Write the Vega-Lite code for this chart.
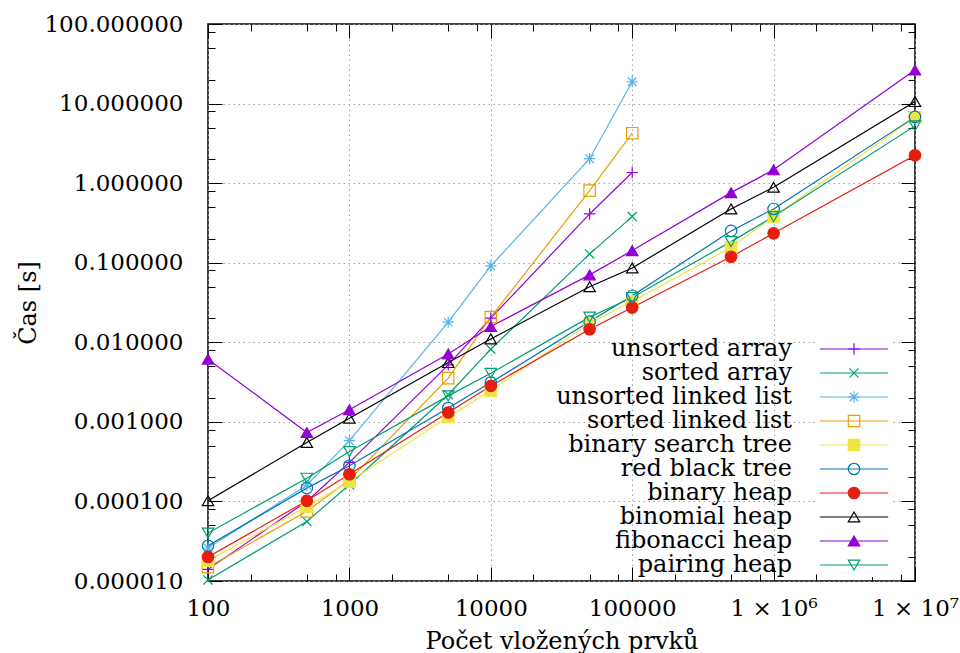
{
  "$schema": "https://vega.github.io/schema/vega-lite/v6.json",
  "width": 707,
  "height": 557,
  "autosize": {"type": "none"},
  "padding": {"left": 208, "top": 24, "right": 45, "bottom": 72},
  "background": "white",
  "config": {
    "view": {"stroke": "black", "strokeWidth": 1.5},
    "font": "DejaVu Serif",
    "axis": {"labelColor": "black", "titleColor": "black", "tickColor": "black", "labelFont": "DejaVu Serif", "titleFont": "DejaVu Serif"}
  },
  "datasets": {
    "times": [
      {"s": "unsorted array", "n": 100, "t": 0.000014},
      {"s": "unsorted array", "n": 500, "t": 0.0001},
      {"s": "unsorted array", "n": 1000, "t": 0.00031},
      {"s": "unsorted array", "n": 5000, "t": 0.0052},
      {"s": "unsorted array", "n": 10000, "t": 0.0201},
      {"s": "unsorted array", "n": 50000, "t": 0.41},
      {"s": "unsorted array", "n": 100000, "t": 1.36},
      {"s": "sorted array", "n": 100, "t": 0.0000103},
      {"s": "sorted array", "n": 500, "t": 0.000056},
      {"s": "sorted array", "n": 1000, "t": 0.000162},
      {"s": "sorted array", "n": 5000, "t": 0.00219},
      {"s": "sorted array", "n": 10000, "t": 0.0082},
      {"s": "sorted array", "n": 50000, "t": 0.129},
      {"s": "sorted array", "n": 100000, "t": 0.38},
      {"s": "unsorted linked list", "n": 100, "t": 0.000026},
      {"s": "unsorted linked list", "n": 500, "t": 0.00016},
      {"s": "unsorted linked list", "n": 1000, "t": 0.00058},
      {"s": "unsorted linked list", "n": 5000, "t": 0.0179},
      {"s": "unsorted linked list", "n": 10000, "t": 0.091},
      {"s": "unsorted linked list", "n": 50000, "t": 2.03},
      {"s": "unsorted linked list", "n": 100000, "t": 18.8},
      {"s": "sorted linked list", "n": 100, "t": 0.0000149},
      {"s": "sorted linked list", "n": 500, "t": 0.000075},
      {"s": "sorted linked list", "n": 1000, "t": 0.000187},
      {"s": "sorted linked list", "n": 5000, "t": 0.00354},
      {"s": "sorted linked list", "n": 10000, "t": 0.0207},
      {"s": "sorted linked list", "n": 50000, "t": 0.805},
      {"s": "sorted linked list", "n": 100000, "t": 4.24},
      {"s": "binary search tree", "n": 100, "t": 0.000018},
      {"s": "binary search tree", "n": 500, "t": 0.000086},
      {"s": "binary search tree", "n": 1000, "t": 0.000178},
      {"s": "binary search tree", "n": 5000, "t": 0.00115},
      {"s": "binary search tree", "n": 10000, "t": 0.00247},
      {"s": "binary search tree", "n": 50000, "t": 0.0174},
      {"s": "binary search tree", "n": 100000, "t": 0.0325},
      {"s": "binary search tree", "n": 500000, "t": 0.155},
      {"s": "binary search tree", "n": 1000000, "t": 0.38},
      {"s": "binary search tree", "n": 10000000, "t": 6.7},
      {"s": "red black tree", "n": 100, "t": 0.0000277},
      {"s": "red black tree", "n": 500, "t": 0.000147},
      {"s": "red black tree", "n": 1000, "t": 0.00028},
      {"s": "red black tree", "n": 5000, "t": 0.00149},
      {"s": "red black tree", "n": 10000, "t": 0.00312},
      {"s": "red black tree", "n": 50000, "t": 0.0182},
      {"s": "red black tree", "n": 100000, "t": 0.0385},
      {"s": "red black tree", "n": 500000, "t": 0.251},
      {"s": "red black tree", "n": 1000000, "t": 0.474},
      {"s": "red black tree", "n": 10000000, "t": 6.8},
      {"s": "binary heap", "n": 100, "t": 0.00002},
      {"s": "binary heap", "n": 500, "t": 0.000102},
      {"s": "binary heap", "n": 1000, "t": 0.00022},
      {"s": "binary heap", "n": 5000, "t": 0.00131},
      {"s": "binary heap", "n": 10000, "t": 0.00283},
      {"s": "binary heap", "n": 50000, "t": 0.0146},
      {"s": "binary heap", "n": 100000, "t": 0.0273},
      {"s": "binary heap", "n": 500000, "t": 0.119},
      {"s": "binary heap", "n": 1000000, "t": 0.234},
      {"s": "binary heap", "n": 10000000, "t": 2.24},
      {"s": "binomial heap", "n": 100, "t": 0.000102},
      {"s": "binomial heap", "n": 500, "t": 0.00055},
      {"s": "binomial heap", "n": 1000, "t": 0.00111},
      {"s": "binomial heap", "n": 5000, "t": 0.00556},
      {"s": "binomial heap", "n": 10000, "t": 0.011},
      {"s": "binomial heap", "n": 50000, "t": 0.05},
      {"s": "binomial heap", "n": 100000, "t": 0.086},
      {"s": "binomial heap", "n": 500000, "t": 0.474},
      {"s": "binomial heap", "n": 1000000, "t": 0.887},
      {"s": "binomial heap", "n": 10000000, "t": 10.6},
      {"s": "fibonacci heap", "n": 100, "t": 0.00614},
      {"s": "fibonacci heap", "n": 500, "t": 0.000734},
      {"s": "fibonacci heap", "n": 1000, "t": 0.00142},
      {"s": "fibonacci heap", "n": 5000, "t": 0.00714},
      {"s": "fibonacci heap", "n": 10000, "t": 0.0158},
      {"s": "fibonacci heap", "n": 50000, "t": 0.0703},
      {"s": "fibonacci heap", "n": 100000, "t": 0.142},
      {"s": "fibonacci heap", "n": 500000, "t": 0.76},
      {"s": "fibonacci heap", "n": 1000000, "t": 1.47},
      {"s": "fibonacci heap", "n": 10000000, "t": 26.4},
      {"s": "pairing heap", "n": 100, "t": 0.00004},
      {"s": "pairing heap", "n": 500, "t": 0.000196},
      {"s": "pairing heap", "n": 1000, "t": 0.000424},
      {"s": "pairing heap", "n": 5000, "t": 0.00212},
      {"s": "pairing heap", "n": 10000, "t": 0.00408},
      {"s": "pairing heap", "n": 50000, "t": 0.0207},
      {"s": "pairing heap", "n": 100000, "t": 0.0365},
      {"s": "pairing heap", "n": 500000, "t": 0.184},
      {"s": "pairing heap", "n": 1000000, "t": 0.38},
      {"s": "pairing heap", "n": 10000000, "t": 5.24}
    ]
  },
  "data": {"name": "times"},
  "layer": [
    {
      "mark": {"type": "line", "strokeWidth": 1.2, "clip": true},
      "encoding": {
        "x": {"field": "n", "type": "quantitative",
          "scale": {"type": "log", "domain": [100, 10000000], "nice": false},
          "axis": {"orient": "bottom", "values": [100, 1000, 10000, 100000, 1000000, 10000000],
            "labelExpr": "datum.value == 1000000 ? '1 × 10⁶' : datum.value == 10000000 ? '1 × 10⁷' : format(datum.value, 'd')",
            "ticks": false, "domain": false, "grid": true, "gridDash": [1.5, 3.5], "gridColor": "#a0a0a0", "gridWidth": 1,
            "labelFontSize": 23, "labelPadding": 16, "labelFlush": false, "labelOverlap": false,
            "title": "Počet vložených prvků", "titleFontSize": 24, "titleFontWeight": "normal", "titlePadding": 9}},
        "y": {"field": "t", "type": "quantitative",
          "scale": {"type": "log", "domain": [0.00001, 100], "nice": false},
          "axis": {"orient": "left", "values": [0.00001, 0.0001, 0.001, 0.01, 0.1, 1, 10, 100], "format": ".6f",
            "ticks": false, "domain": false, "grid": true, "gridDash": [1.5, 3.5], "gridColor": "#a0a0a0", "gridWidth": 1,
            "labelFontSize": 23, "labelPadding": 25, "labelOverlap": false,
            "title": "Čas [s]", "titleFontSize": 24, "titleFontWeight": "normal", "titlePadding": 3}},
        "color": {"field": "s", "type": "nominal",
          "scale": {"domain": ["unsorted array", "sorted array", "unsorted linked list", "sorted linked list", "binary search tree", "red black tree", "binary heap", "binomial heap", "fibonacci heap", "pairing heap"],
            "range": ["#9400d3", "#009e73", "#56b4e9", "#e69f00", "#f0e442", "#0072b2", "#e51e10", "#000000", "#9400d3", "#009e73"]},
          "legend": {"orient": "none", "legendX": 610, "legendY": 313, "title": null, "symbolType": "M-6,0H6", "symbolSize": 130, "symbolStrokeWidth": 1.2,
            "labelFont": "DejaVu Serif", "labelFontSize": 24, "labelColor": "black", "labelAlign": "right", "labelOffset": -74, "labelLimit": 500,
            "rowPadding": -2.6, "padding": 0, "symbolOffset": 24, "fillColor": "white"}}
      }
    },
    {
      "mark": {"type": "point", "strokeWidth": 1.2, "size": 130, "opacity": 1},
      "encoding": {
        "x": {"field": "n", "type": "quantitative",
          "axis": {"orient": "top", "values": [100, 1000, 10000, 100000, 1000000, 10000000], "labels": false, "ticks": true, "tickSize": -14, "tickWidth": 1, "domain": false, "grid": false, "title": null}},
        "y": {"field": "t", "type": "quantitative",
          "axis": {"orient": "right", "values": [0.00001, 0.0001, 0.001, 0.01, 0.1, 1, 10, 100], "labels": false, "ticks": true, "tickSize": -14, "tickWidth": 1, "domain": false, "grid": false, "title": null}},
        "stroke": {"field": "s", "type": "nominal", "sort": null,
          "scale": {"range": ["#9400d3", "#009e73", "#56b4e9", "#e69f00", "#f0e442", "#0072b2", "#e51e10", "#000000", "#9400d3", "#009e73"]}},
        "fill": {"field": "s", "type": "nominal", "sort": null,
          "scale": {"range": ["transparent", "transparent", "transparent", "transparent", "#f0e442", "transparent", "#e51e10", "transparent", "#9400d3", "transparent"]}},
        "shape": {"field": "s", "type": "nominal", "sort": null,
          "scale": {"range": ["M-1,0H1M0,-1V1", "M-0.8,-0.8L0.8,0.8M-0.8,0.8L0.8,-0.8", "M-1,0H1M0,-1V1M-0.75,-0.75L0.75,0.75M-0.75,0.75L0.75,-0.75", "square", "square", "circle", "circle", "triangle-up", "triangle-up", "triangle-down"]},
          "legend": {"orient": "none", "legendX": 610, "legendY": 313, "title": null, "symbolSize": 130, "symbolStrokeWidth": 1.2, "symbolOffset": 24,
            "labelFont": "DejaVu Serif", "labelFontSize": 24, "labelOpacity": 0, "labelExpr": "' '", "labelAlign": "right", "labelOffset": -74, "labelLimit": 500,
            "rowPadding": -2.6, "padding": 0}}
      }
    },
    {
      "mark": {"type": "point", "opacity": 0},
      "encoding": {
        "x": {"field": "n", "type": "quantitative",
          "axis": {"orient": "bottom", "values": [100, 1000, 10000, 100000, 1000000, 10000000], "labels": false, "ticks": true, "tickSize": -14, "tickWidth": 1, "domain": false, "grid": false, "title": null}},
        "y": {"field": "t", "type": "quantitative",
          "axis": {"orient": "left", "values": [0.00001, 0.0001, 0.001, 0.01, 0.1, 1, 10, 100], "labels": false, "ticks": true, "tickSize": -14, "tickWidth": 1, "domain": false, "grid": false, "title": null}}
      }
    },
    {
      "mark": {"type": "point", "opacity": 0},
      "encoding": {
        "x": {"field": "n", "type": "quantitative",
          "axis": {"orient": "bottom", "values": [200, 500, 800, 2000, 5000, 8000, 20000, 50000, 80000, 200000, 500000, 800000, 2000000, 5000000, 8000000], "labels": false, "ticks": true, "tickSize": -7, "tickWidth": 1, "domain": false, "grid": false, "title": null}},
        "y": {"field": "t", "type": "quantitative",
          "axis": {"orient": "left", "values": [0.00002, 0.00005, 0.00008, 0.0002, 0.0005, 0.0008, 0.002, 0.005, 0.008, 0.02, 0.05, 0.08, 0.2, 0.5, 0.8, 2, 5, 8, 20, 50, 80], "labels": false, "ticks": true, "tickSize": -7, "tickWidth": 1, "domain": false, "grid": false, "title": null}}
      }
    },
    {
      "mark": {"type": "point", "opacity": 0},
      "encoding": {
        "x": {"field": "n", "type": "quantitative",
          "axis": {"orient": "top", "values": [200, 500, 800, 2000, 5000, 8000, 20000, 50000, 80000, 200000, 500000, 800000, 2000000, 5000000, 8000000], "labels": false, "ticks": true, "tickSize": -7, "tickWidth": 1, "domain": false, "grid": false, "title": null}},
        "y": {"field": "t", "type": "quantitative",
          "axis": {"orient": "right", "values": [0.00002, 0.00005, 0.00008, 0.0002, 0.0005, 0.0008, 0.002, 0.005, 0.008, 0.02, 0.05, 0.08, 0.2, 0.5, 0.8, 2, 5, 8, 20, 50, 80], "labels": false, "ticks": true, "tickSize": -7, "tickWidth": 1, "domain": false, "grid": false, "title": null}}
      }
    }
  ],
  "resolve": {"axis": {"x": "independent", "y": "independent"}}
}
